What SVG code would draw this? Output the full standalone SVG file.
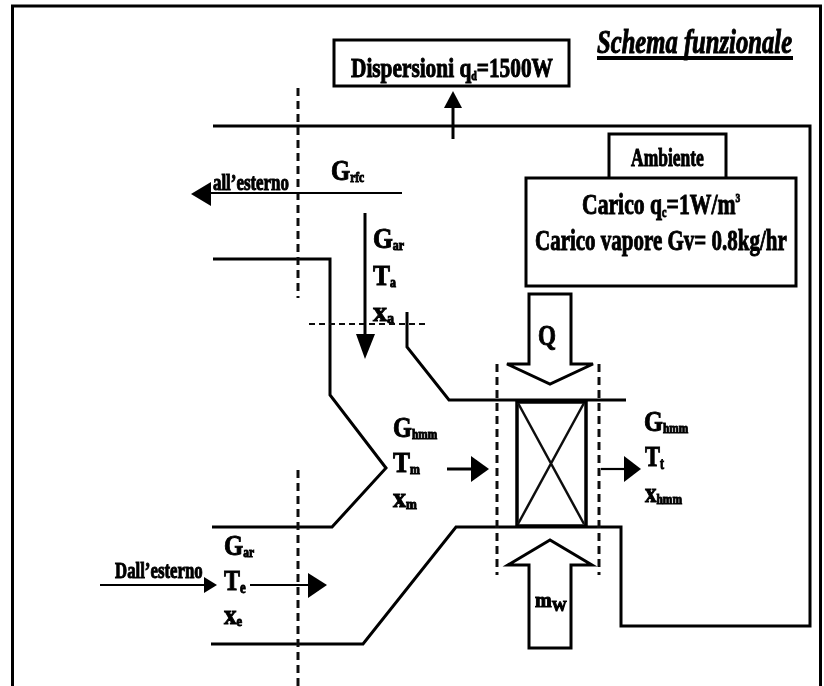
<svg xmlns="http://www.w3.org/2000/svg" width="824" height="686" viewBox="0 0 824 686">
<defs><filter id="soft" x="0" y="0" width="100%" height="100%" filterUnits="objectBoundingBox"><feGaussianBlur stdDeviation="0.45"/></filter></defs>
<style>
text{font-family:"Liberation Serif",serif;font-weight:bold;fill:#000;stroke:#000;stroke-width:1}
.l{fill:none;stroke:#000;stroke-width:3}
.t{stroke-width:2.2}
.d{fill:none;stroke:#111;stroke-width:3;stroke-dasharray:8 5}
.h{fill:#000;stroke:none}
</style>
<rect width="824" height="686" fill="#fff"/>
<g filter="url(#soft)">
<rect width="824" height="686" fill="#fff"/>
<rect x="12.500" y="6" width="808" height="700" fill="none" stroke="#000" stroke-width="3"/>
<g id="connectors">
<path class="l" d="M213 126H810V626H621V527H456L363 644H211"/>
<path class="l" d="M213 259H330V395L386 468L332 527H212"/>
<path class="l" d="M407 312V347L449 400H626"/>
<path class="d" d="M298 88V298"/>
<path class="d" d="M298 470V686"/>
<path class="d" d="M497 364V575"/>
<path class="d" d="M599 364V575"/>
<path d="M309 324H427" fill="none" stroke="#111" stroke-width="1.800" stroke-dasharray="6 4"/>
<path class="l" d="M453 139V106"/><path class="h" d="M453 91L462 108H444Z"/>
<path class="l t" d="M402 193H205"/><path class="h" d="M191 194L211 182V206Z"/>
<path class="l" d="M365 213V345"/><path class="h" d="M365 359L356 334H375Z"/>
<path class="l" d="M447 469H475"/><path class="h" d="M489 469L471 456V482Z"/>
<path class="l t" d="M601 469H628"/><path class="h" d="M641 469L624 456V482Z"/>
<path class="l t" d="M100 585H210"/><path class="h" d="M217 585L204 577V593Z"/>
<path class="l t" d="M250 585H312"/><path class="h" d="M327 585L308 573V598Z"/>
</g>
<g id="dispersioni"><rect class="l" x="334" y="40" width="235" height="46"/>
<text transform="translate(351 77) scale(.762 1)" font-size="28">Dispersioni q<tspan font-size="13" dy="3">d</tspan><tspan dy="-3">=1500W</tspan></text></g>
<g id="titolo"><text transform="translate(597 53) scale(.747 1)" font-size="33" font-style="italic">Schema funzionale</text><rect x="597" y="56" width="196" height="4" fill="#000"/></g>
<g id="ambiente-tab"><path class="l" d="M609 177V134H726V177"/><text transform="translate(631 166) scale(.7 1)" font-size="25">Ambiente</text></g>
<g id="ambiente"><rect class="l" x="526" y="178" width="270" height="108"/>
<text transform="translate(582 214) scale(.723 1)" font-size="30">Carico q<tspan font-size="14" dy="3">c</tspan><tspan dy="-3">=1W/m</tspan><tspan font-size="13" dy="-12">3</tspan></text>
<text transform="translate(535 250) scale(.7 1)" font-size="30">Carico vapore Gv= 0.8kg/hr</text></g>
<g id="scambiatore"><rect x="517" y="402" width="69" height="124" fill="none" stroke="#000" stroke-width="3.500"/><path d="M518 403L584 524M584 403L518 524" fill="none" stroke="#111" stroke-width="2.500"/></g>
<g id="q"><path class="l" d="M529 294H571V364H593L550 384L507 364H529Z"/><text transform="translate(538 345) scale(.77 1)" font-size="30">Q</text></g>
<g id="mw"><path class="l" d="M529 648H571V565H592L550 540L508 565H529Z"/><text x="535" y="607" font-size="20">m<tspan font-size="15" dy="4">W</tspan></text></g>
<g id="label-rfe"><text transform="translate(331 180) scale(.82 1)" font-size="30">G<tspan font-size="14" dy="2">rfc</tspan></text></g>
<g id="label-esterno"><text transform="translate(213 190) scale(.734 1)" font-size="23">all’esterno</text></g>
<g id="label-a"><text transform="translate(373 248) scale(.85 1)" font-size="30">G<tspan font-size="14" dy="2">ar</tspan></text><text transform="translate(373 285) scale(.85 1)" font-size="30">T<tspan font-size="14" dy="2">a</tspan></text><text x="373" y="321" font-size="28">x<tspan font-size="14" dy="2">a</tspan></text></g>
<g id="label-m"><text transform="translate(393 437) scale(.81 1)" font-size="30">G<tspan font-size="14" dy="2">hmm</tspan></text><text transform="translate(393 472) scale(.85 1)" font-size="30">T<tspan font-size="14" dy="2">m</tspan></text><text transform="translate(393 507) scale(.93 1)" font-size="28">x<tspan font-size="14" dy="2">m</tspan></text></g>
<g id="label-t"><text transform="translate(644 431) scale(.81 1)" font-size="30">G<tspan font-size="14" dy="2">hmm</tspan></text><text transform="translate(645 466) scale(.75 1)" font-size="30">T<tspan font-size="16" dy="3">t</tspan></text><text transform="translate(645 502) scale(.82 1)" font-size="28">x<tspan font-size="14" dy="2">hmm</tspan></text></g>
<g id="label-e"><text transform="translate(224 555) scale(.82 1)" font-size="30">G<tspan font-size="14" dy="2">ar</tspan></text><text transform="translate(224 590) scale(.8 1)" font-size="30">T<tspan font-size="16" dy="3">e</tspan></text><text transform="translate(224 624) scale(.9 1)" font-size="28">x<tspan font-size="14" dy="2">e</tspan></text></g>
<g id="label-dall"><text transform="translate(115 578) scale(.7 1)" font-size="24">Dall’esterno</text></g>
</g>
</svg>
